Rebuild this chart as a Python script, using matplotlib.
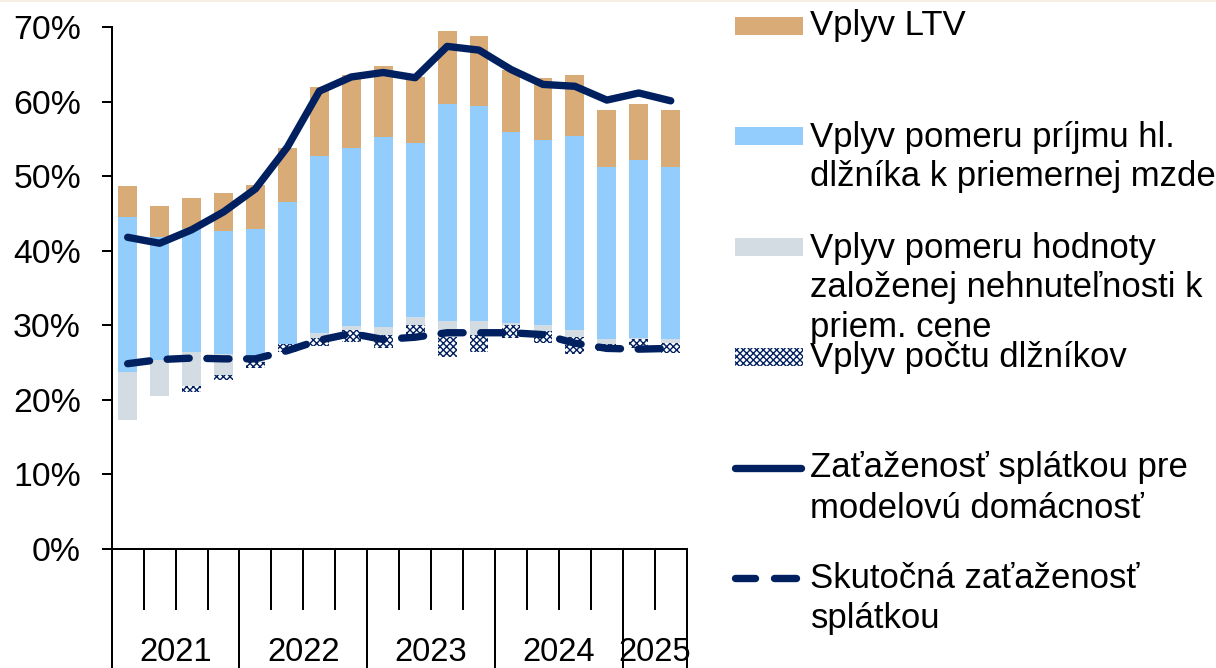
import numpy as np
import matplotlib.pyplot as plt
import matplotlib.patches as mpatches
import matplotlib.transforms as mtransforms
from matplotlib.lines import Line2D

plt.rcParams['font.family'] = ['Liberation Sans', 'DejaVu Sans']
plt.rcParams['hatch.color'] = '#0F2B5B'
plt.rcParams['hatch.linewidth'] = 1.0

# data (in %), quarters 2021Q1 .. 2025Q2
years = ['2021', '2022', '2023', '2024', '2025']
year_counts = [4, 4, 4, 4, 2]

# invisible offset from which each bar starts
base = [17.35, 20.5, 21.0, 22.7, 24.3, 26.4, 27.2, 27.8, 27.0,
        28.6, 25.8, 26.4, 28.35, 27.6, 26.2, 26.5, 26.9, 26.3]
debtors = [0.0, 0.0, 0.8, 0.7, 0.8, 1.1, 1.1, 1.6, 1.75,
           1.4, 2.6, 2.35, 1.75, 1.6, 2.2, 1.0, 1.2, 1.3]
collateral = [6.45, 4.9, 4.6, 2.8, 0.2, 0.0, 0.7, 0.5, 1.05,
              1.1, 2.2, 1.85, 0.2, 0.9, 1.0, 0.6, 0.25, 0.5]
income = [20.7, 16.4, 16.5, 16.4, 17.6, 19.0, 23.75, 23.9, 25.5,
          23.4, 29.1, 28.8, 25.6, 24.8, 26.0, 23.1, 23.85, 23.1]
ltv = [4.2, 4.2, 4.2, 5.1, 5.9, 7.3, 9.25, 9.7, 9.5,
       8.8, 9.8, 9.35, 8.3, 8.3, 8.1, 7.7, 7.5, 7.7]
model_burden = [41.8, 41.0, 42.8, 45.2, 48.3, 53.9, 61.4, 63.3, 63.9,
                63.2, 67.4, 66.9, 64.3, 62.3, 62.05, 60.2, 61.15, 60.1]
actual_burden = [24.85, 25.4, 25.6, 25.5, 25.5, 26.6, 28.0, 28.9, 28.1,
                 28.4, 29.0, 29.0, 29.0, 28.75, 27.6, 26.9, 26.8, 26.9]

TAN = '#D9AB76'
BLUE = '#93CDFE'
GRAY = '#D3DCE3'
NAVY = '#002060'
FS_Y = 24.3
FS_X = 23.6
FS_LEG = 25

W, H = 1216, 668
fig = plt.figure(figsize=(W / 100, H / 100), dpi=100)
ax = fig.add_axes([111.7 / W, (H - 549) / H, 575 / W, 522 / H])

x = np.arange(len(base))
bw = 0.59
bottom = np.array(base, dtype=float)
ax.bar(x, debtors, bw, bottom=bottom, color='white', edgecolor=NAVY,
       hatch='xxxxx', linewidth=0)
bottom = bottom + np.array(debtors)
ax.bar(x, collateral, bw, bottom=bottom, color=GRAY, linewidth=0)
bottom = bottom + np.array(collateral)
ax.bar(x, income, bw, bottom=bottom, color=BLUE, linewidth=0)
bottom = bottom + np.array(income)
ax.bar(x, ltv, bw, bottom=bottom, color=TAN, linewidth=0)

ax.plot(x, actual_burden, color=NAVY, lw=5.3, dashes=(3, 2.4),
        dash_capstyle='round', solid_joinstyle='round')
ax.plot(x, model_burden, color=NAVY, lw=5.3, solid_capstyle='round',
        solid_joinstyle='round')

ax.set_xlim(-0.5, len(base) - 0.5)
ax.set_ylim(0, 70)
ax.set_yticks(np.arange(0, 71, 10))
ax.set_yticklabels([f'{v}%' for v in range(0, 71, 10)], fontsize=FS_Y)
ax.tick_params(axis='y', length=7.2, width=1.44, pad=14.9)

for s in ['top', 'right']:
    ax.spines[s].set_visible(False)
for s in ['left', 'bottom']:
    ax.spines[s].set_linewidth(1.44)

# category axis: short ticks between quarters, long ones between years
edges = np.cumsum([0] + year_counts) - 0.5
ax.set_xticks(edges)
ax.set_xticklabels([])
ax.set_xticks([e - 0.5 for e in range(1, len(base)) if e - 0.5 not in edges], minor=True)
ax.tick_params(axis='x', which='major', length=85.7, width=1.44, direction='out')
ax.tick_params(axis='x', which='minor', length=43.9, width=1.44, direction='out')

trans = mtransforms.blended_transform_factory(ax.transData, ax.transAxes)
for i, yr in enumerate(years):
    c = (edges[i] + edges[i + 1]) / 2
    ax.text(c, (549 - 661) / 522, yr, transform=trans, ha='center',
            va='baseline', fontsize=FS_X)

# legend drawn by hand on the right
def fx(px):
    return px / W

def fy(py):
    return 1 - py / H

def box(top, **kw):
    fig.add_artist(mpatches.Rectangle((fx(735), fy(top + 18)), 68 / W, 18 / H,
                                      transform=fig.transFigure, **kw))

def seg(x0, x1, y):
    fig.add_artist(Line2D([fx(x0), fx(x1)], [fy(y), fy(y)], color=NAVY, lw=5.3,
                          solid_capstyle='round', transform=fig.transFigure))

box(17, facecolor=TAN, linewidth=0)
box(127, facecolor=BLUE, linewidth=0)
box(238, facecolor=GRAY, linewidth=0)
box(348, facecolor='white', edgecolor=NAVY, hatch='xxxxx', linewidth=0)
seg(735, 801, 467.5)
seg(735, 755, 577.7)
seg(774, 796, 577.7)

legend_lines = [
    ('Vplyv LTV', 35.5),
    ('Vplyv pomeru príjmu hl.', 146.7),
    ('dlžníka k priemernej mzde', 185.7),
    ('Vplyv pomeru hodnoty', 258.3),
    ('založenej nehnuteľnosti k', 296.7),
    ('priem. cene', 336.7),
    ('Vplyv počtu dlžníkov', 366.7),
    ('Zaťaženosť splátkou pre', 477.3),
    ('modelovú domácnosť', 518.3),
    ('Skutočná zaťaženosť', 588.3),
    ('splátkou', 627.7),
]
for txt, yb in legend_lines:
    fig.text(fx(810.5), fy(yb), txt, fontsize=FS_LEG, ha='left', va='baseline')

# thin beige strip at the very top
fig.add_artist(mpatches.Rectangle((0, fy(2)), 1, 2 / H, transform=fig.transFigure,
                                  facecolor='#F6EDE3', linewidth=0))

fig.savefig('out.png', dpi=100)
